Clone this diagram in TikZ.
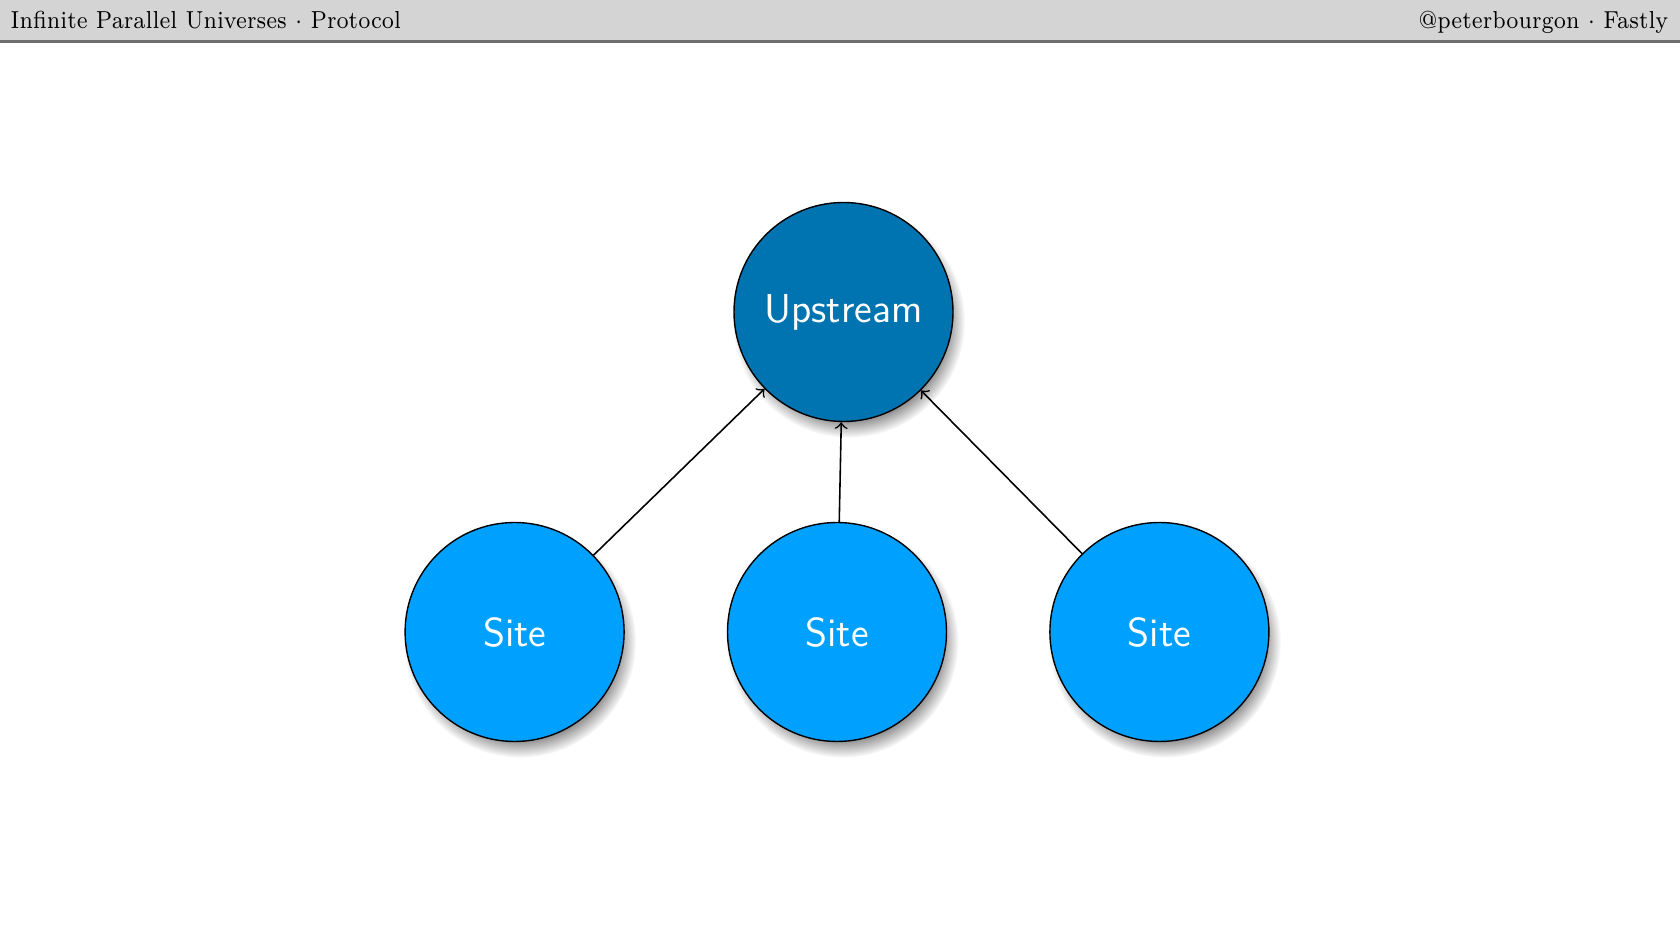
\documentclass[tikz,border=0pt]{standalone}
\usepackage{tikz}
\usetikzlibrary{arrows,positioning,shadows}
\definecolor{upblue}{HTML}{0073B1}
\definecolor{siteblue}{HTML}{00A0FE}
\definecolor{barline}{HTML}{6E6E6E}

\begin{document}
\begin{tikzpicture}[node distance = 1.02cm,
    bubble/.style={circle,draw=black,line width=0.4pt,minimum size=2.19cm,inner sep=0pt,
        text=white,font=\sffamily\fontsize{11.5}{13}\selectfont,
        circular drop shadow={shadow xshift=0.05cm,shadow yshift=-0.09cm,shadow scale=1.06,opacity=0.85}},
    upstream/.style={bubble,fill=upblue},
    site/.style={bubble,fill=siteblue},
    header/.style={font=\fontsize{7}{8}\selectfont,inner sep=0pt}]
\useasboundingbox (0,0) rectangle (16.8,-9.45);
\fill[black!17] (0,0) rectangle (16.8,-0.415);
\draw[barline,line width=0.6pt] (0,-0.415) -- (16.8,-0.415);
\node[header,anchor=base west] (title) at (0.1,-0.29) {\scalebox{0.87}[1]{Infinite Parallel Universes $\cdot$ Protocol}};
\node[header,anchor=base east] (author) at (16.69,-0.29) {\scalebox{0.87}[1]{@peterbourgon $\cdot$ Fastly}};

\node[upstream] (up) at (8.435,-3.12) {Upstream};
\node[site] (site_2) at (8.37,-6.32) {Site};
\node[site] (site_1) [left = of site_2] {Site};
\node[site] (site_3) [right = of site_2] {Site};

\path[->,line width=0.45pt] (site_1) edge (up)
            (site_2) edge (up)
            (site_3) edge (up);
\end{tikzpicture}
\end{document}
